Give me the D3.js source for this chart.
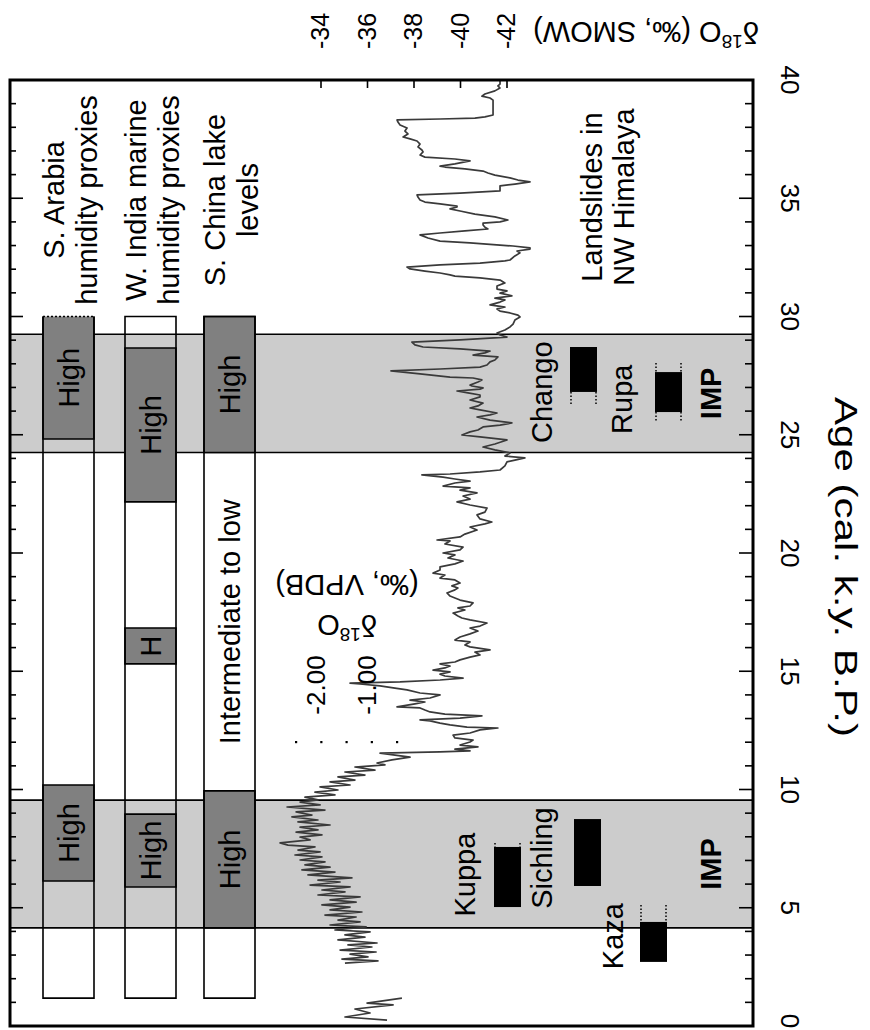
<!DOCTYPE html>
<html>
<head>
<meta charset="utf-8">
<script src="https://cdn.jsdelivr.net/npm/d3@7"></script>
<style>
  body { margin: 0; background: #fff; }
  svg text { font-family: "Liberation Sans", Arial, Helvetica, sans-serif; fill: #000; }
</style>
</head>
<body>
<svg id="chart" width="870" height="1030"></svg>
<script>
// ---------------- data ----------------
// Age axis (cal. k.y. B.P.)
const ageDomain = [0, 40];
const ageTickLabels = [0, 5, 10, 15, 20, 25, 30, 35, 40];

// Ice-core oxygen isotope axis (permil, SMOW)
const smowTicks = [-34, -36, -38, -40, -42];
// Speleothem axis (permil, VPDB)
const vpdbTicks = [-2.5, -2, -1.5, -1, -0.5];
const vpdbTickLabels = [-2, -1];

// Intensified monsoon phases (IMP), ages in ka
const impPhases = [[4.15, 9.55], [24.25, 29.25]];

// Regional proxy columns: record span and humid phases
const proxyColumns = ["S. Arabia", "W. India", "S. China"];
const proxyTitles = [
  ["S. Arabia", "humidity proxies"],
  ["W. India marine", "humidity proxies"],
  ["S. China lake", "levels"]
];
const proxySpan = [["S. Arabia", 1.18, 30, true], ["W. India", 1.18, 30, false], ["S. China", 1.18, 30, false]];
const humidPhases = [
  ["S. Arabia", 24.82, 30, "High", true],
  ["S. Arabia", 6.13, 10.19, "High", false],
  ["W. India", 22.16, 28.67, "High", false],
  ["W. India", 15.31, 16.83, "H", false],
  ["W. India", 5.88, 8.96, "High", false],
  ["S. China", 24.25, 30, "High", false],
  ["S. China", 4.15, 9.94, "High", false]
];
const lowPhases = [["S. China", 9.94, 24.25, "Intermediate to low"]];

// Landslide ages in the NW Himalaya: [site, from, to, extended from, extended to]
const landslideSites = ["Kuppa", "Chango", "Sichling", "Kaza", "Rupa"];
const landslides = [
  ["Kuppa", 5.03, 7.57, 5.03, 7.74],
  ["Chango", 26.81, 28.71, 26.26, 28.71],
  ["Sichling", 5.92, 8.75, 5.92, 8.75],
  ["Kaza", 2.71, 4.40, 2.71, 5.12],
  ["Rupa", 25.96, 27.65, 25.55, 28.03]
];

// Ice-core d18O (permil, SMOW) against age (ka)
const iceCoreRecent = [
  [0.25,-36.84],[0.38,-35.03],[0.55,-36.11],[0.72,-35.46],[0.89,-37.10],[0.97,-35.98],[1.18,-37.48]
];
const iceCore = [
  [2.66,-35.03],[2.75,-36.45],[2.83,-34.90],[2.92,-36.02],[3.04,-35.25],[3.13,-36.37],[3.21,-34.82],[3.34,-36.19],
  [3.43,-35.16],[3.51,-36.41],[3.64,-34.73],[3.76,-35.89],[3.85,-35.03],[3.98,-36.11],[4.06,-34.60],[4.19,-35.94],
  [4.27,-34.39],[4.40,-35.68],[4.48,-34.73],[4.61,-35.51],[4.69,-34.17],[4.82,-35.76],[4.91,-34.39],[5.03,-35.25],
  [5.12,-34.04],[5.24,-35.51],[5.33,-34.39],[5.46,-35.68],[5.54,-33.87],[5.67,-35.03],[5.75,-34.04],[5.88,-35.25],
  [5.96,-33.53],[6.09,-34.82],[6.17,-33.87],[6.26,-35.33],[6.39,-33.44],[6.51,-34.60],[6.60,-33.18],[6.72,-34.39],
  [6.81,-33.31],[6.94,-34.17],[7.02,-33.10],[7.15,-34.04],[7.23,-32.88],[7.36,-33.96],[7.44,-33.01],[7.57,-33.74],
  [7.65,-32.58],[7.74,-32.24],[7.87,-33.53],[7.99,-33.10],[8.08,-34.04],[8.20,-32.93],[8.29,-33.87],[8.41,-33.10],
  [8.50,-34.39],[8.63,-33.01],[8.71,-33.87],[8.84,-32.75],[8.92,-33.61],[9.05,-32.93],[9.13,-34.17],[9.26,-32.54],
  [9.35,-33.96],[9.47,-33.10],[9.56,-33.87],[9.68,-33.31],[9.77,-34.60],[9.89,-33.74],[9.98,-34.73],[10.11,-33.96],
  [10.19,-35.25],[10.32,-34.39],[10.40,-35.46],[10.53,-34.73],[10.61,-35.89],[10.74,-35.03],[10.82,-36.32],[10.95,-35.46],
  [11.04,-36.75],[11.12,-36.41],[11.25,-37.05],[11.37,-37.83],[11.54,-36.54],
  [11.59,-39.12],[11.63,-40.41],[11.71,-39.76],[11.80,-40.75],[11.88,-39.98],[12.01,-40.41],[12.09,-40.54],[12.18,-39.76],
  [12.30,-39.68],[12.39,-40.41],[12.52,-40.84],[12.60,-41.61],[12.64,-40.28],[12.73,-39.55],[12.81,-39.12],[12.90,-38.69],
  [12.94,-38.26],[13.02,-39.98],[13.11,-40.92],[13.19,-39.33],[13.28,-38.69],[13.36,-38.47],[13.45,-38.26],[13.49,-37.27],
  [13.62,-38.04],[13.70,-38.47],[13.78,-37.83],[13.87,-38.69],[14.00,-39.12],[14.08,-38.26],[14.21,-37.70],[14.29,-37.18],
  [14.38,-36.54],[14.46,-35.68],[14.50,-35.25],[14.55,-37.40],[14.63,-39.12],[14.71,-40.11],[14.80,-39.33],[14.88,-39.12],
  [14.97,-39.55],[15.05,-38.82],[15.14,-39.33],[15.22,-39.55],[15.31,-39.12],[15.39,-39.76],[15.48,-39.98],[15.60,-40.41],
  [15.69,-40.84],[15.81,-40.62],[15.90,-41.27],[16.03,-40.41],[16.11,-40.19],[16.24,-40.41],[16.32,-39.76],[16.45,-39.98],
  [16.58,-40.41],[16.70,-40.75],[16.83,-40.41],[16.91,-40.84],[17.04,-41.14],[17.17,-40.41],[17.25,-40.06],[17.34,-39.89],
  [17.46,-39.68],[17.59,-40.19],[17.68,-39.89],[17.76,-40.41],[17.89,-40.54],[18.01,-39.98],[18.10,-39.76],[18.18,-39.55],
  [18.31,-39.42],[18.44,-39.76],[18.52,-39.89],[18.61,-39.63],[18.73,-39.98],[18.86,-39.76],[18.94,-39.12],[19.07,-39.33],
  [19.15,-38.82],[19.28,-39.12],[19.41,-39.12],[19.54,-39.76],[19.66,-40.11],[19.79,-39.46],[19.92,-39.76],[20.00,-39.25],
  [20.13,-39.98],[20.25,-40.11],[20.38,-39.33],[20.51,-39.55],[20.55,-38.99],[20.68,-39.98],[20.80,-40.19],[20.97,-40.71],
  [21.10,-40.41],[21.23,-41.05],[21.31,-41.35],[21.44,-40.84],[21.61,-40.71],[21.73,-41.05],[21.90,-41.14],[22.03,-40.41],
  [22.16,-39.85],[22.28,-40.41],[22.41,-40.11],[22.54,-40.71],[22.66,-39.98],[22.75,-40.41],[22.83,-39.25],[22.96,-39.76],
  [23.04,-40.41],[23.13,-39.76],[23.21,-39.25],[23.30,-38.34],[23.34,-39.55],[23.43,-40.84],[23.51,-41.70],[23.68,-41.91],
  [23.85,-42.00],[23.93,-42.34],[24.02,-42.77],[24.10,-41.91],[24.23,-42.13],[24.36,-41.48],[24.48,-40.97],[24.61,-41.48],
  [24.78,-42.00],[24.91,-40.84],[24.99,-40.06],[25.12,-40.41],[25.20,-40.75],[25.33,-40.97],[25.41,-41.70],[25.50,-42.21],
  [25.62,-41.27],[25.75,-40.71],[25.84,-41.27],[25.92,-41.57],[26.05,-40.84],[26.13,-40.41],[26.22,-40.75],[26.34,-40.97],
  [26.47,-40.41],[26.60,-40.84],[26.68,-40.84],[26.77,-40.32],[26.85,-39.85],[26.93,-40.84],[26.98,-40.97],[27.06,-40.49],
  [27.10,-40.41],[27.23,-40.75],[27.32,-40.92],[27.40,-40.54],[27.44,-39.55],[27.57,-38.26],[27.70,-37.01],[27.78,-39.12],
  [27.86,-40.84],[27.95,-41.14],[28.08,-41.27],[28.16,-41.48],[28.29,-41.61],[28.37,-40.54],[28.46,-41.05],[28.54,-41.27],
  [28.63,-39.98],[28.71,-38.39],[28.80,-38.04],[28.92,-37.91],[29.01,-39.98],[29.13,-42.00],[29.22,-41.70],[29.30,-41.57],
  [29.43,-41.91],[29.56,-42.13],[29.68,-42.26],[29.85,-42.34],[29.98,-42.56],[30.06,-42.47],[30.15,-42.13],[30.23,-41.70],
  [30.32,-41.57],[30.40,-41.91],[30.49,-41.27],[30.61,-41.70],[30.70,-41.91],[30.78,-41.48],[30.87,-42.21],[30.99,-41.70],
  [31.08,-42.00],[31.16,-41.57],[31.29,-41.57],[31.42,-41.91],[31.54,-41.70],[31.63,-40.84],[31.71,-39.76],[31.76,-39.55],
  [31.84,-39.12],[31.92,-38.47],[32.01,-37.83],[32.09,-37.70],[32.18,-39.12],[32.26,-40.84],[32.35,-41.91],[32.39,-42.13],
  [32.56,-42.34],[32.69,-42.56],[32.77,-42.43],[32.85,-42.99],[32.90,-42.99],[32.98,-42.26],[33.02,-41.70],[33.11,-40.41],
  [33.19,-39.12],[33.32,-38.60],[33.45,-38.26],[33.53,-39.12],[33.62,-40.19],[33.70,-41.18],[33.78,-41.05],[33.87,-40.97],
  [33.95,-40.97],[34.00,-41.70],[34.08,-42.04],[34.21,-41.48],[34.33,-40.62],[34.46,-39.98],[34.55,-39.55],[34.63,-39.85],
  [34.67,-39.85],[34.76,-39.12],[34.84,-38.47],[34.93,-38.26],[35.05,-38.17],[35.14,-38.13],[35.22,-39.98],[35.31,-41.70],
  [35.43,-41.70],[35.52,-41.70],[35.60,-42.34],[35.69,-42.99],[35.77,-42.47],[35.86,-42.13],[35.98,-41.48],[36.07,-41.18],
  [36.15,-40.97],[36.24,-40.19],[36.32,-39.33],[36.36,-39.12],[36.45,-39.76],[36.58,-40.41],[36.66,-39.76],[36.74,-38.47],
  [36.83,-38.26],[36.96,-38.39],[37.04,-38.34],[37.17,-38.17],[37.29,-38.26],[37.42,-38.13],[37.51,-37.83],[37.59,-37.53],
  [37.72,-37.74],[37.84,-37.61],[37.97,-37.70],[38.10,-37.40],[38.22,-37.31],[38.31,-37.27],[38.35,-39.12],[38.39,-40.62],
  [38.44,-41.05],[38.52,-41.40],[38.73,-41.40],[38.94,-41.40],[39.15,-41.40],[39.24,-41.27],[39.32,-40.92],[39.41,-41.05],
  [39.54,-41.48],[39.66,-41.70],[39.75,-41.61],[39.83,-41.70],[40.00,-41.70]
];

// ---------------- layout ----------------
const frame = { left: 10, right: 753, top: 80, bottom: 1026 };
const colWidth = 51;
const siteWidth = 27;
const font = 29;
const highFill = "#808080";
const bandFill = "#cccccc";
const ink = "#000";

const svg = d3.select("#chart");

const yAge = d3.scaleLinear().domain(ageDomain).range([frame.bottom, frame.top]);
const xSmow = d3.scaleLinear().domain([-34, -42]).range([321, 507]);
const xVpdb = d3.scaleLinear().domain([-2.5, -0.5]).range([296, 397]);
const colX = d3.scaleOrdinal().domain(proxyColumns).range([43, 125, 204]);
const siteX = d3.scaleOrdinal().domain(landslideSites).range([494, 570, 574, 640, 655]);
// label placement of each landslide site: [baseline offset from box, age of label centre]
const siteLabel = {
  Kuppa: [-19, 6.4], Chango: [-18, 26.8], Sichling: [-22, 7.1], Kaza: [-17, 3.8], Rupa: [-23, 26.5]
};

svg.append("rect").attr("width", 870).attr("height", 1030).attr("fill", "#fff");

// rotated text helper: rotation in degrees about the anchor point
function rotText(x, y, angle, str, size, opts = {}) {
  const t = svg.append("text")
    .attr("transform", `translate(${x},${y}) rotate(${angle})`)
    .attr("text-anchor", opts.anchor || "middle")
    .attr("dominant-baseline", opts.baseline || "alphabetic")
    .attr("font-size", size)
    .attr("font-weight", opts.weight || "normal")
    .text(str);
  if (opts.length) t.attr("textLength", opts.length).attr("lengthAdjust", "spacingAndGlyphs");
  return t;
}

// ---- IMP shading ----
const bands = svg.append("g");
impPhases.forEach(([a0, a1]) => {
  bands.append("rect")
    .attr("x", frame.left).attr("width", frame.right - frame.left)
    .attr("y", yAge(a1)).attr("height", yAge(a0) - yAge(a1))
    .attr("fill", bandFill);
  [a0, a1].forEach(a => bands.append("line")
    .attr("x1", frame.left).attr("x2", frame.right)
    .attr("y1", yAge(a)).attr("y2", yAge(a))
    .attr("stroke", ink).attr("stroke-width", 1.6));
});

// ---- proxy columns ----
const proxies = svg.append("g");
humidPhases.forEach(([col, a0, a1, label, dottedTop]) => {
  const x0 = colX(col), x1 = x0 + colWidth, yt = yAge(a1), yb = yAge(a0);
  proxies.append("rect").attr("x", x0).attr("y", yt).attr("width", colWidth).attr("height", yb - yt)
    .attr("fill", highFill);
  proxies.append("path")
    .attr("d", dottedTop ? `M${x0},${yt}V${yb}H${x1}V${yt}` : `M${x0},${yt}V${yb}H${x1}V${yt}Z`)
    .attr("fill", "none").attr("stroke", ink).attr("stroke-width", 1.6);
  rotText(x0 + colWidth / 2 + 10, (yt + yb) / 2, -90, label, font);
});
proxySpan.forEach(([col, a0, a1, dottedTop]) => {
  const x0 = colX(col), x1 = x0 + colWidth, yt = yAge(a1), yb = yAge(a0);
  proxies.append("path")
    .attr("d", dottedTop ? `M${x0},${yt}V${yb}H${x1}V${yt}` : `M${x0},${yt}V${yb}H${x1}V${yt}Z`)
    .attr("fill", "none").attr("stroke", ink).attr("stroke-width", 1.6);
  if (dottedTop) {
    proxies.append("line").attr("x1", x0).attr("x2", x1).attr("y1", yt).attr("y2", yt)
      .attr("stroke", ink).attr("stroke-width", 1.6).attr("stroke-dasharray", "2,2");
  }
});
lowPhases.forEach(([col, a0, a1, label]) => {
  rotText(colX(col) + colWidth / 2 + 10, (yAge(a0) + yAge(a1)) / 2, -90, label, font);
});
proxyTitles.forEach((lines, i) => {
  const x0 = colX(proxyColumns[i]);
  rotText(x0 + 21, 200, -90, lines[0], font);
  rotText(x0 + 54, 200, -90, lines[1], font);
});

// ---- ice-core record ----
svg.append("clipPath").attr("id", "plotClip").append("rect")
  .attr("x", frame.left).attr("y", frame.top)
  .attr("width", frame.right - frame.left).attr("height", frame.bottom - frame.top);
const line = d3.line().x(d => xSmow(d[1])).y(d => yAge(d[0]));
[iceCoreRecent, iceCore].forEach(series => {
  svg.append("path").datum(series)
    .attr("clip-path", "url(#plotClip)")
    .attr("d", line)
    .attr("fill", "none").attr("stroke", "#3a3a3a")
    .attr("stroke-width", 1.7).attr("stroke-linejoin", "round");
});

// ---- VPDB scale ----
vpdbTicks.forEach(v => svg.append("rect")
  .attr("x", xVpdb(v) - 1).attr("y", 741).attr("width", 2.2).attr("height", 2.2).attr("fill", ink));
vpdbTickLabels.forEach(v => rotText(xVpdb(v) - 5, 685, -90, v.toFixed(2), 26,
  { baseline: "central" }));
{
  const g = svg.append("text")
    .attr("transform", "translate(347,605) rotate(180)")
    .attr("text-anchor", "middle").attr("dominant-baseline", "central").attr("font-size", font);
  const l1 = g.append("tspan").attr("x", 0).attr("y", -20);
  l1.append("tspan").text("δ");
  l1.append("tspan").attr("font-size", 19).attr("dy", -10).text("18");
  l1.append("tspan").attr("dy", 10).text("O");
  g.append("tspan").attr("x", 0).attr("y", 20).text("(‰, VPDB)");
}

// ---- landslides ----
const slides = svg.append("g");
landslides.forEach(([site, a0, a1, e0, e1]) => {
  const x0 = siteX(site);
  slides.append("rect").attr("x", x0).attr("width", siteWidth)
    .attr("y", yAge(a1)).attr("height", yAge(a0) - yAge(a1)).attr("fill", ink);
  [[e1, a1], [a0, e0]].forEach(([top, bot]) => {
    if (top - bot > 0.01) {
      [x0 + 1, x0 + siteWidth - 1].forEach(x => slides.append("line")
        .attr("x1", x).attr("x2", x).attr("y1", yAge(top)).attr("y2", yAge(bot))
        .attr("stroke", ink).attr("stroke-width", 1.5).attr("stroke-dasharray", "1.5,2"));
    }
  });
  const [dx, aLab] = siteLabel[site];
  rotText(x0 + dx, yAge(aLab), -90, site, font);
});
impPhases.forEach(([a0, a1]) => rotText(721, (yAge(a0) + yAge(a1)) / 2, -90, "IMP", font, { weight: "bold" }));
rotText(602, 197, -90, "Landslides in", font);
rotText(634, 197, -90, "NW Himalaya", font);

// ---- frame and ticks ----
const axes = svg.append("g").attr("stroke", ink);
d3.range(1, 40).forEach(a => {
  const major = a % 5 === 0;
  axes.append("line").attr("x1", frame.left).attr("x2", frame.left + (major ? 13 : 6))
    .attr("y1", yAge(a)).attr("y2", yAge(a)).attr("stroke-width", 1.6);
  axes.append("line").attr("x1", frame.right).attr("x2", frame.right - (major ? 14 : 8))
    .attr("y1", yAge(a)).attr("y2", yAge(a)).attr("stroke-width", 1.6);
});
smowTicks.forEach(v => axes.append("line")
  .attr("x1", xSmow(v)).attr("x2", xSmow(v)).attr("y1", frame.top).attr("y2", frame.top + 8)
  .attr("stroke-width", 1.6));
svg.append("rect").attr("x", frame.left).attr("y", frame.top)
  .attr("width", frame.right - frame.left).attr("height", frame.bottom - frame.top)
  .attr("fill", "none").attr("stroke", ink).attr("stroke-width", 3);

// ---- axis labels ----
ageTickLabels.forEach(a => rotText(790, Math.min(yAge(a), 1021), 90, a, 26, { baseline: "central" }));
rotText(846, 567, 90, "Age (cal. k.y. B.P.)", 32, { baseline: "central", length: 340 });
smowTicks.forEach(v => rotText(xSmow(v) - 1, 31, -90, v, 25, { baseline: "central" }));
{
  const t = svg.append("text")
    .attr("transform", "translate(646,32) rotate(180)")
    .attr("text-anchor", "middle").attr("dominant-baseline", "central").attr("font-size", font);
  t.append("tspan").text("δ");
  t.append("tspan").attr("font-size", 19).attr("dy", -10).text("18");
  t.append("tspan").attr("dy", 10).text("O (‰, SMOW)");
}
</script>
</body>
</html>
